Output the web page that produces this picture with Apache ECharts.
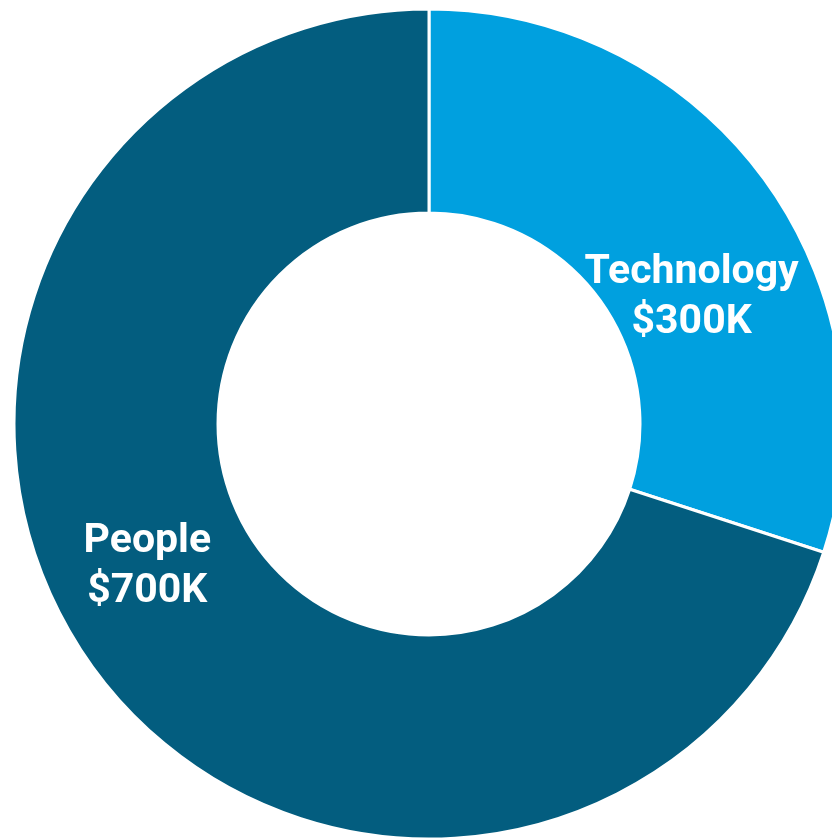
<!DOCTYPE html>
<html>
<head>
<meta charset="utf-8">
<script src="https://cdn.jsdelivr.net/npm/echarts@6/dist/echarts.min.js"></script>
<style>
  html, body { margin: 0; padding: 0; background: #fff; }
  #chart { width: 832px; height: 840px; }
</style>
</head>
<body>
<div id="chart"></div>
<script>
const categories = ["Technology", "People"]
const values = [300, 700]
const valueLabels = ["$300K", "$700K"]
const colors = ["#00A0DF", "#035D7F"]

// nudges so labels sit where the original has them
const labelShift = [[7, 59], [-26, -43]]

const chart = echarts.init(document.getElementById("chart"), null, { renderer: "canvas" })

chart.setOption({
  animation: false,
  series: [
    {
      type: "pie",
      center: [429, 424],
      radius: [211, 415],
      startAngle: 90,
      clockwise: true,
      itemStyle: { borderColor: "#fff", borderWidth: 3 },
      label: {
        show: true,
        position: "inside",
        color: "#fff",
        fontFamily: "Roboto",
        fontWeight: "bold",
        fontSize: 41,
        lineHeight: 50,
        formatter: (p) => p.name + "\n" + valueLabels[p.dataIndex],
      },
      labelLayout: (p) => ({ dx: labelShift[p.dataIndex][0], dy: labelShift[p.dataIndex][1] }),
      emphasis: { disabled: true },
      data: categories.map((c, i) => ({
        name: c,
        value: values[i],
        itemStyle: { color: colors[i] },
      })),
    },
  ],
})
</script>
</body>
</html>
